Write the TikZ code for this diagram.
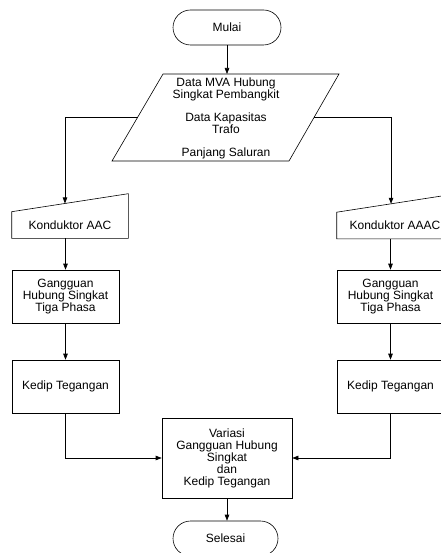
\documentclass[tikz,border=0pt]{standalone}
\usepackage{fontspec}
\setmainfont{Liberation Sans}
\usetikzlibrary{arrows.meta,calc}
\begin{document}
\begin{tikzpicture}[x=1pt,y=-1pt,line width=0.6pt,
	arr/.style={-{Triangle[length=6pt,width=4.5pt]}},
	term/.style={draw,rounded corners=17.5pt,minimum width=108pt,minimum height=35pt},
	kotak/.style={draw,minimum width=107pt,minimum height=53pt,align=center},
	manin/.style={minimum width=116pt,minimum height=26pt}]
		\tikzstyle{every node}+=[inner sep=0pt,font=\fontsize{12}{12}\selectfont]
		\useasboundingbox (0,0) rectangle (440,553);
		\node [term] (mulai) at (227,27.5) {Mulai};
		\coordinate (dA) at (163,74);
		\coordinate (dB) at (339,74);
		\coordinate (dC) at (289,161);
		\coordinate (dD) at (112,161);
		\draw (dA) -- (dB) -- (dC) -- (dD) -- cycle;
		\node [align=center,font=\fontsize{12}{11.6}\selectfont] (data) at (226,118.5) {Data MVA Hubung\\Singkat Pembangkit\\[11.6pt]Data Kapasitas\\Trafo\\[11.6pt]Panjang Saluran};
		\coordinate (dL) at ($(dD)!0.5!(dA)$);
		\coordinate (dR) at ($(dC)!0.5!(dB)$);
		\node [manin] (aac) at (70,225) {Konduktor AAC\hspace{10pt}};
		\draw (aac.south west) -- (aac.south east) -- ([yshift=18pt]aac.north east) -- (aac.north west) -- cycle;
		\coordinate (aacT) at ($(aac.north west)!0.457!([yshift=18pt]aac.north east)$);
		\node [manin] (aaac) at (395,225.5) {Konduktor AAAC\hspace{10pt}};
		\draw (aaac.south west) -- (aaac.south east) -- ([yshift=18pt]aaac.north east) -- (aaac.north west) -- cycle;
		\coordinate (aaacT) at ($(aaac.north west)!0.466!([yshift=18pt]aaac.north east)$);
		\node [kotak] (gang1) at (65.5,296.5) {Gangguan\\Hubung Singkat\\Tiga Phasa};
		\node [kotak] (kedip1) at (65.5,386.5) {Kedip Tegangan};
		\node [kotak] (gang2) at (390.5,296.5) {Gangguan\\Hubung Singkat\\Tiga Phasa};
		\node [kotak] (kedip2) at (390.5,386.5) {Kedip Tegangan};
		\node [kotak,minimum width=130pt,minimum height=80pt] (var) at (227,458) {Variasi\\Gangguan Hubung\\Singkat\\dan\\Kedip Tegangan};
		\node [term,minimum width=105pt] (selesai) at (225.5,538.5) {Selesai};
		\draw [arr] (mulai) -- (mulai |- dA);
		\draw [arr] (dL) -| (aacT);
		\draw [arr] (dR) -| (aaacT);
		\draw [arr] (gang1 |- aac.south) -- (gang1);
		\draw [arr] (gang2 |- aaac.south) -- (gang2);
		\draw [arr] (gang1) -- (kedip1);
		\draw [arr] (gang2) -- (kedip2);
		\draw [arr] (kedip1) |- (var);
		\draw [arr] (kedip2) |- (var);
		\draw [arr] (var) -- (var |- selesai.north);
	\end{tikzpicture}
\end{document}
